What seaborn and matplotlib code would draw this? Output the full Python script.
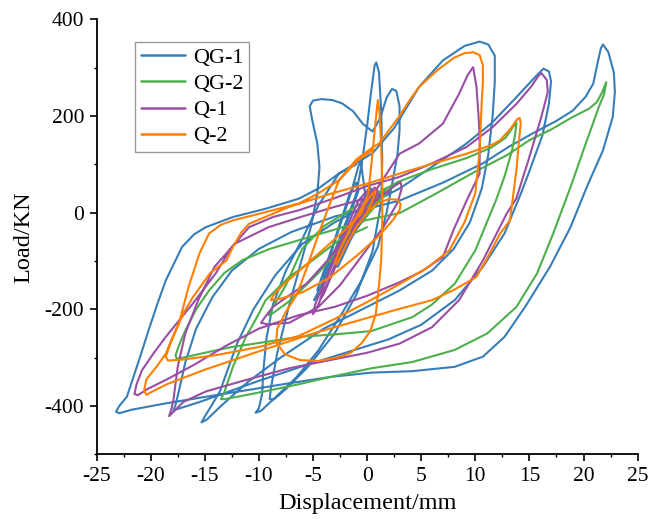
import matplotlib
matplotlib.use("Agg")
import pandas as pd
import seaborn as sns
import matplotlib.pyplot as plt
from matplotlib.ticker import MultipleLocator

# hysteresis curves: (displacement mm, load kN)
qg1 = [
    (0, 0), (0.5, 40), (0.3, 52), (-0.5, 22), (-2, -50), (-3, -110), (-2.7, -112), (-1.5, -55), (0, 5),
    (-0.3, 60), (-0.6, 108), (-0.8, 96), (-1.5, 40), (-3, -60), (-4.2, -150), (-4.9, -181), (-4.6, -176),
    (-3.5, -110), (-2, -30), (-0.8, 45), (-1.0, 62), (-1.6, 40), (-3.2, -70), (-4.6, -160),
    (-4.4, -166), (-3, -80), (-1.8, -10), (-1, 40), (-0.5, 100), (0, 180), (0.4, 255), (0.7, 305),
    (0.85, 311), (1.1, 290), (1.3, 212), (1.4, 108), (1.3, 20), (0.5, -80), (-1, -170), (-3, -250),
    (-5.5, -320), (-7.5, -365), (-8.6, -386), (-9, -386), (-8.9, -365), (-8.3, -290), (-7.3, -200),
    (-6.2, -110), (-5.2, -30), (-4.6, 39), (-4.4, 94), (-4.6, 143), (-5.1, 195), (-5.3, 220),
    (-5.0, 232), (-4.2, 235), (-3.2, 233), (-2.3, 226), (-1.3, 210), (-0.4, 184), (0.5, 168),
    (1.2, 195), (1.8, 238), (2.3, 256), (2.7, 252), (3, 220), (3, 170), (2.8, 120), (2.4, 70),
    (1.8, 0), (1, -70), (-0.5, -140), (-2.5, -215), (-4.5, -285), (-6.5, -340), (-8.5, -383),
    (-9.8, -410), (-10.3, -414), (-10, -405), (-9.7, -375), (-9.6, -330), (-9.3, -260), (-8.7, -190),
    (-7.5, -120), (-6, -55), (-4.5, 15), (-2.6, 81), (0.5, 123), (2.5, 175), (4.8, 260), (7, 315),
    (9, 345), (10.4, 354), (11.2, 348), (11.8, 325), (11.8, 270), (11.6, 200), (11.2, 120),
    (10.6, 50), (9.5, -20), (8, -75), (6, -120), (3, -161), (0, -195), (-4, -240), (-8, -300),
    (-11, -350), (-13.5, -400), (-14.8, -428), (-15.3, -434), (-15.0, -422), (-14.4, -400),
    (-13.6, -370), (-12.8, -320), (-12, -270), (-10.5, -200), (-8.5, -130), (-6, -65), (-3, -20),
    (0, 15), (3, 50), (6, 95), (9, 140), (11.5, 185), (13.8, 239), (15.5, 280), (16.3, 298),
    (16.8, 292), (17, 272), (16.8, 225), (16.2, 160), (15.7, 129), (14.9, 80), (14.2, 39),
    (12.7, -43), (10.7, -112), (8.1, -181), (5, -232), (2, -262), (-2, -290), (-6, -318),
    (-10, -348), (-13, -372), (-15.5, -392), (-17.2, -404), (-17.9, -409), (-17.7, -398),
    (-17.3, -360), (-16.8, -310), (-15.8, -240), (-14.3, -175), (-12.5, -120), (-10, -75), (-7, -40),
    (-3, -8), (0, 8), (3, 25), (7, 62), (10.7, 102), (13, 135), (15.3, 164), (17.5, 190), (19, 211),
    (20.2, 240), (20.9, 267), (21.3, 310), (21.6, 340), (21.8, 348), (22.3, 332), (22.8, 290),
    (22.9, 250), (22.7, 198), (22.2, 160), (21.8, 129), (20.3, 53), (18.8, -30), (16.9, -112),
    (14.6, -195), (12.7, -257), (10.7, -298), (8.1, -319), (4.2, -328), (0.4, -331), (-3.4, -340),
    (-7.2, -353), (-11, -367), (-14.9, -381), (-18.7, -395), (-21.8, -408), (-22.9, -415),
    (-23.2, -412), (-22.9, -400), (-22.2, -381), (-21.7, -347), (-21, -300), (-20.2, -244),
    (-19.4, -190), (-18.6, -140), (-17.1, -71), (-16, -45), (-14.9, -30), (-12.4, -9), (-9.4, 8),
    (-6.3, 29), (-4.5, 50), (-2.6, 81), (-1, 100),
]

qg2 = [
    (0, 0), (1, 30), (1.8, 50), (1.5, 48), (0, 10), (-2, -50), (-3.5, -100), (-3.2, -102), (-1.5, -50),
    (0.5, 10), (2, 45), (2.8, 62), (2.5, 58), (1, 20), (-1.5, -45), (-4.5, -125), (-7, -180),
    (-8.7, -208), (-9.1, -212), (-8.7, -195), (-7.5, -150), (-6, -75), (-4, -28), (-1.6, 5), (0.5, 35),
    (3, 65), (6, 90), (9.2, 113), (11.5, 135), (12.8, 155), (13.5, 178), (13.8, 186), (13.7, 165),
    (13.4, 129), (12.7, 75), (11.9, 25), (10, -78), (8.1, -147), (6, -190), (4.2, -216), (0.4, -245),
    (-3, -252), (-6.3, -257), (-9.5, -268), (-12.5, -278), (-15, -290), (-17, -300), (-17.6, -302),
    (-17.7, -295), (-17.3, -270), (-16.8, -244), (-15.8, -200), (-14.6, -161), (-13.2, -125),
    (-11.5, -98), (-9, -75), (-6, -55), (-3, -35), (0, -15), (3, -1), (6, 35), (10, 85), (13, 120),
    (15, 150), (17, 172), (19, 198), (20.5, 215), (21.2, 228), (21.7, 248), (22.1, 270), (21.9, 245),
    (21.4, 218), (20.8, 180), (20.3, 149), (18.8, 53), (17.2, -43), (15.7, -126), (13.8, -195),
    (11.1, -250), (8.1, -284), (4.2, -309), (0.4, -322), (-3.4, -340), (-6.3, -355), (-9.5, -370),
    (-12, -381), (-13.2, -386), (-13.5, -386), (-13.2, -372), (-12.4, -319), (-11.2, -257),
    (-10, -209), (-9.4, -182), (-8.2, -155), (-7.2, -133), (-5, -98), (-2.6, -57), (0, -30),
]

q1 = [
    (0, 0), (0.8, 40), (0.6, 46), (-0.5, 12), (-2, -50), (-3, -100), (-2.8, -102), (-1.5, -50), (0, 0),
    (1, 45), (0.7, 52), (-0.5, 22), (-2.5, -70), (-4, -150), (-4.3, -178), (-4, -168), (-2.5, -90),
    (-0.5, -10), (0.3, 35), (0.1, 48), (-0.8, 25), (-2.8, -80), (-4.8, -190), (-5, -210),
    (-4.6, -195), (-3, -110), (-1, -20), (1, 30), (2.5, 55), (3.1, 63), (3.2, 50), (2.8, 20),
    (1.5, -30), (-0.5, -90), (-2.5, -150), (-4.5, -195), (-7.2, -228), (-9.2, -231), (-9.8, -228),
    (-9.4, -215), (-8.7, -195), (-7, -168), (-5.6, -147), (-3.5, -95), (-1.5, -30), (0.2, 25),
    (1.5, 70), (3, 122), (4.8, 143), (7, 184), (8.5, 246), (9.3, 285), (9.8, 301), (10.1, 262),
    (10.3, 200), (10.4, 156), (10.4, 81), (9.2, 25), (8, -35), (7, -92), (5, -122), (3, -144),
    (0, -172), (-3, -195), (-6.3, -212), (-10, -240), (-13, -275), (-16, -315), (-18.5, -345),
    (-20.3, -365), (-21.2, -378), (-21.5, -375), (-21.3, -355), (-20.8, -326), (-19.7, -290),
    (-18.6, -257), (-16.1, -188), (-14, -126), (-12.5, -71), (-10.9, -30), (-8.7, -9), (-6.3, 5),
    (-3, 30), (0, 55), (3, 74), (6, 102), (9.2, 136), (11.6, 177), (13.8, 225), (15.2, 262),
    (15.8, 282), (16.1, 289), (16.6, 275), (16.7, 250), (16.1, 198), (14.9, 108), (13.8, 30),
    (12.9, -2), (10.7, -99), (8.5, -181), (6, -237), (3, -271), (0, -290), (-3.4, -305),
    (-7.2, -322), (-11, -345), (-14.9, -370), (-17, -392), (-17.8, -410), (-18.3, -421),
    (-18.1, -408), (-17.9, -388), (-17.5, -319), (-16.8, -250), (-15.6, -181), (-14.1, -112),
    (-12.2, -64), (-9.1, -30), (-6, -8), (-3, 12), (0, 30), (2, 42),
]

q2 = [
    (0, 0), (0.5, 25), (0.8, 45), (0.5, 40), (-0.5, 10), (-1.5, -30), (-2.5, -75), (-3, -105),
    (-2.8, -106), (-2, -70), (-1, -30), (0, 0), (1, 20), (2, 28), (2.8, 27), (3.1, 18), (3, 5),
    (2.4, -15), (1, -50), (-1, -90), (-3.5, -135), (-6, -165), (-8, -178), (-8.9, -181), (-8.7, -172),
    (-7.8, -150), (-6, -115), (-4, -75), (-2, -35), (-0.5, 0), (0.1, 40), (0.4, 100), (0.7, 170),
    (0.9, 215), (1, 233), (1.15, 205), (1.3, 140), (1.4, 60), (1.4, -20), (1.3, -100), (1.1, -150),
    (0.8, -210), (0.3, -245), (-0.5, -270), (-1.5, -290), (-2.6, -299), (-4.5, -307), (-6.2, -305),
    (-7.6, -293), (-8.4, -268), (-8.3, -240), (-7.5, -205), (-6.5, -170), (-5.5, -110), (-4.5, -45),
    (-3.5, 15), (-2.6, 67), (-1, 110), (0.5, 135), (1.1, 143), (2, 170), (3, 200), (4, 235),
    (4.8, 260), (6.5, 295), (8, 320), (9, 330), (9.8, 332), (10.4, 326), (10.7, 305), (10.7, 270),
    (10.6, 232), (10.4, 129), (10, 40), (9, -20), (7.6, -78), (5.5, -115), (3, -148), (0, -185),
    (-3, -220), (-6.3, -255), (-10, -278), (-14, -295), (-17, -304), (-18.4, -306), (-18.6, -298),
    (-18.2, -270), (-17.7, -244), (-16.9, -205), (-16.1, -175), (-14.5, -125), (-13, -99),
    (-12.4, -71), (-11.6, -40), (-10.9, -23), (-9, -5), (-7.2, 12), (-3.4, 39), (0, 60), (3, 81),
    (6, 101), (9.2, 122), (11.5, 140), (12.3, 150), (13.3, 175), (13.9, 194), (14.1, 196),
    (14.2, 185), (14.0, 140), (13.8, 88), (13.2, -16), (12.3, -43), (11.2, -90), (10.1, -133),
    (8, -160), (6, -181), (3, -199), (0, -218), (-5, -250), (-10, -287), (-15, -325), (-18.5, -355),
    (-20, -372), (-20.4, -377), (-20.6, -368), (-20.4, -345), (-19.5, -320), (-18.6, -292),
    (-17.4, -230), (-16.5, -154), (-15.5, -85), (-14.6, -43), (-13.5, -25), (-12.4, -16), (-9.4, 1),
    (-6.3, 19), (-4.5, 40), (-2.6, 67), (-1, 105), (0.5, 130),
]

names = ["QG-1", "QG-2", "Q-1", "Q-2"]
curves = [qg1, qg2, q1, q2]
colors = ["#377eb8", "#4daf4a", "#984ea3", "#ff7f00"]

rows = []
for name, pts in zip(names, curves):
    for x, y in pts:
        rows.append((name, x, y))
df = pd.DataFrame(rows, columns=["series", "x", "y"])

sns.set_theme(style="ticks")
plt.rcParams["font.family"] = ["Liberation Serif", "DejaVu Serif"]
plt.rcParams["axes.unicode_minus"] = False
plt.rcParams["text.color"] = "black"
plt.rcParams["axes.labelcolor"] = "black"
plt.rcParams["xtick.color"] = "black"
plt.rcParams["ytick.color"] = "black"

fig = plt.figure(figsize=(6.48, 5.19), dpi=100)
ax = fig.add_axes([0.149, 0.1247, 0.835, 0.838])

sns.lineplot(data=df, x="x", y="y", hue="series", hue_order=names,
             palette=dict(zip(names, colors)), sort=False, estimator=None,
             linewidth=1.5, ax=ax)

ax.set_xlim(-25, 25)
ax.set_ylim(-500, 400)
ax.xaxis.set_major_locator(MultipleLocator(5))
ax.xaxis.set_minor_locator(MultipleLocator(2.5))
ax.yaxis.set_major_locator(MultipleLocator(200))
ax.yaxis.set_minor_locator(MultipleLocator(100))
ax.tick_params(which="major", direction="out", length=5, width=1.2, labelsize=15.5, pad=4)
ax.tick_params(which="minor", direction="out", length=2.5, width=1.0)

for side in ["top", "right"]:
    ax.spines[side].set_visible(False)
for side in ["left", "bottom"]:
    ax.spines[side].set_linewidth(1.3)
    ax.spines[side].set_color("black")

ax.set_xlabel("Displacement/mm", fontsize=17.5)
ax.set_ylabel("Load/KN", fontsize=17.5)
ax.xaxis.set_label_coords(0.5, -0.09)
ax.yaxis.set_label_coords(-0.115, 0.5)

sns.move_legend(ax, "upper left", bbox_to_anchor=(135 / 648, 1 - 42 / 519),
                bbox_transform=fig.transFigure, title=None, frameon=True,
                fancybox=False, edgecolor="#999999", framealpha=1, fontsize=16,
                handlelength=2.0, handletextpad=0.35, labelspacing=0.25,
                borderpad=0.25, borderaxespad=0)
leg = ax.get_legend()
leg.get_frame().set_linewidth(1.0)
for line in leg.get_lines():
    line.set_linewidth(1.8)

fig.savefig("out.png", dpi=100)
